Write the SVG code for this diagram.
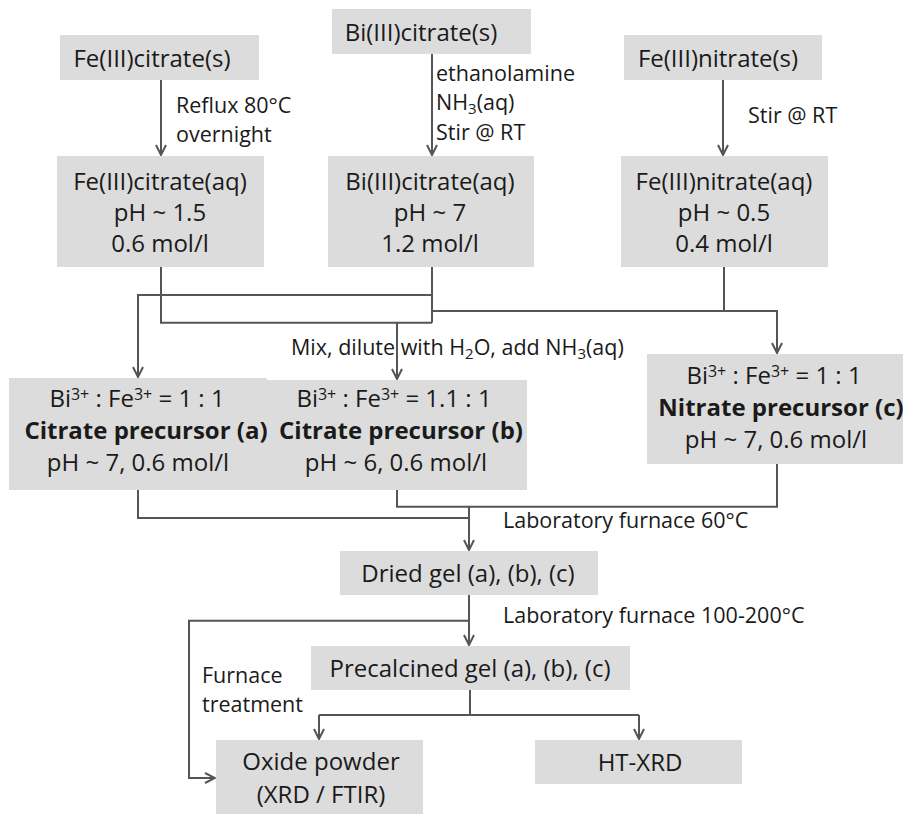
<svg xmlns="http://www.w3.org/2000/svg" width="903" height="814" viewBox="0 0 903 814">
<style>
.box{fill:#dcdcdc}
.t{font-family:"Open Sans","Noto Sans",sans-serif;font-size:24px;fill:#1a1a1a;text-anchor:middle}
.b{font-weight:bold}
.l{font-family:"Open Sans","Noto Sans",sans-serif;font-size:21.5px;fill:#1a1a1a}
.c{fill:none;stroke:#555;stroke-width:2}
.sup{font-size:16px}
.sub{font-size:15px}
</style>
<defs>
<marker id="ah" viewBox="0 0 12 12" refX="11" refY="6" markerWidth="12" markerHeight="12" markerUnits="userSpaceOnUse" orient="auto">
<path d="M1,1 L11,6 L1,11" fill="none" stroke="#555" stroke-width="2"/>
</marker>
</defs>
<rect width="903" height="814" fill="#fff"/>
<g id="connectors">
<path class="c" d="M161,80 V155" marker-end="url(#ah)"/>
<path class="c" d="M432,54 V155" marker-end="url(#ah)"/>
<path class="c" d="M723,80 V155" marker-end="url(#ah)"/>
<path class="c" d="M161,267 V322.7 H432"/>
<path class="c" d="M432,267 V322.7"/>
<path class="c" d="M432,295 H138 V377" marker-end="url(#ah)"/>
<path class="c" d="M432,311 H777 V353" marker-end="url(#ah)"/>
<path class="c" d="M724,267 V311"/>
<path class="c" d="M397,322.7 V379" marker-end="url(#ah)"/>
<path class="c" d="M138,490 V518 H469"/>
<path class="c" d="M397,490 V506.7 H777 V464"/>
<path class="c" d="M469,506.7 V550" marker-end="url(#ah)"/>
<path class="c" d="M469,595 V645" marker-end="url(#ah)"/>
<path class="c" d="M469,620.7 H189 V778 H215" marker-end="url(#ah)"/>
<path class="c" d="M470,690 V715"/>
<path class="c" d="M319,715 H639"/>
<path class="c" d="M319,715 V739" marker-end="url(#ah)"/>
<path class="c" d="M639,715 V739" marker-end="url(#ah)"/>
</g>
<g id="labels">
<text class="l" x="176" y="113">Reflux 80°C</text>
<text class="l" x="176" y="142">overnight</text>
<text class="l" x="436" y="81">ethanolamine</text>
<text class="l" x="436" y="110">NH<tspan class="sub" dy="4">3</tspan><tspan dy="-4">(aq)</tspan></text>
<text class="l" x="436" y="140">Stir @ RT</text>
<text class="l" x="748" y="123">Stir @ RT</text>
<text class="l" x="291" y="355">Mix, dilute with H<tspan class="sub" dy="4">2</tspan><tspan dy="-4">O, add NH</tspan><tspan class="sub" dy="4">3</tspan><tspan dy="-4">(aq)</tspan></text>
<text class="l" x="503" y="528">Laboratory furnace 60°C</text>
<text class="l" x="503" y="623">Laboratory furnace 100-200°C</text>
<text class="l" x="202" y="683">Furnace</text>
<text class="l" x="202" y="712">treatment</text>
</g>
<g id="fe-citrate-s"><rect class="box" x="60" y="35" width="199" height="45"/><text class="t" x="152" y="67">Fe(III)citrate(s)</text></g>
<g id="bi-citrate-s"><rect class="box" x="332" y="9" width="199" height="45"/><text class="t" x="421" y="41">Bi(III)citrate(s)</text></g>
<g id="fe-nitrate-s"><rect class="box" x="624" y="35" width="198" height="45"/><text class="t" x="718" y="67">Fe(III)nitrate(s)</text></g>
<g id="fe-citrate-aq"><rect class="box" x="57" y="156" width="207" height="111"/>
<text class="t" x="160" y="190">Fe(III)citrate(aq)</text><text class="t" x="160" y="221">pH ~ 1.5</text><text class="t" x="160" y="252">0.6 mol/l</text></g>
<g id="bi-citrate-aq"><rect class="box" x="328" y="156" width="206" height="111"/>
<text class="t" x="430" y="190">Bi(III)citrate(aq)</text><text class="t" x="430" y="221">pH ~ 7</text><text class="t" x="430" y="252">1.2 mol/l</text></g>
<g id="fe-nitrate-aq"><rect class="box" x="621" y="156" width="207" height="111"/>
<text class="t" x="724" y="190">Fe(III)nitrate(aq)</text><text class="t" x="724" y="221">pH ~ 0.5</text><text class="t" x="724" y="252">0.4 mol/l</text></g>
<g id="precursor-a"><rect class="box" x="9" y="378" width="258" height="112"/>
<text class="t" x="137" y="407">Bi<tspan class="sup" dy="-7">3+</tspan><tspan dy="7"> : Fe</tspan><tspan class="sup" dy="-7">3+</tspan><tspan dy="7"> = 1 : 1</tspan></text>
<text class="t b" x="146" y="439">Citrate precursor (a)</text>
<text class="t" x="138" y="471">pH ~ 7, 0.6 mol/l</text></g>
<g id="precursor-b"><rect class="box" x="267" y="380" width="260" height="110"/>
<text class="t" x="394" y="407">Bi<tspan class="sup" dy="-7">3+</tspan><tspan dy="7"> : Fe</tspan><tspan class="sup" dy="-7">3+</tspan><tspan dy="7"> = 1.1 : 1</tspan></text>
<text class="t b" x="401" y="439">Citrate precursor (b)</text>
<text class="t" x="396" y="471">pH ~ 6, 0.6 mol/l</text></g>
<g id="precursor-c"><rect class="box" x="647" y="354" width="256" height="110"/>
<text class="t" x="774" y="384">Bi<tspan class="sup" dy="-7">3+</tspan><tspan dy="7"> : Fe</tspan><tspan class="sup" dy="-7">3+</tspan><tspan dy="7"> = 1 : 1</tspan></text>
<text class="t b" x="781" y="416">Nitrate precursor (c)</text>
<text class="t" x="776" y="448">pH ~ 7, 0.6 mol/l</text></g>
<g id="dried-gel"><rect class="box" x="340" y="551" width="258" height="44"/><text class="t" x="468" y="582">Dried gel (a), (b), (c)</text></g>
<g id="precalcined-gel"><rect class="box" x="311" y="646" width="319" height="44"/><text class="t" x="470" y="677">Precalcined gel (a), (b), (c)</text></g>
<g id="oxide-powder"><rect class="box" x="216" y="740" width="207" height="74"/><text class="t" x="321" y="770">Oxide powder</text><text class="t" x="321" y="803">(XRD / FTIR)</text></g>
<g id="ht-xrd"><rect class="box" x="535" y="740" width="207" height="44"/><text class="t" x="640" y="771">HT-XRD</text></g>
</svg>
